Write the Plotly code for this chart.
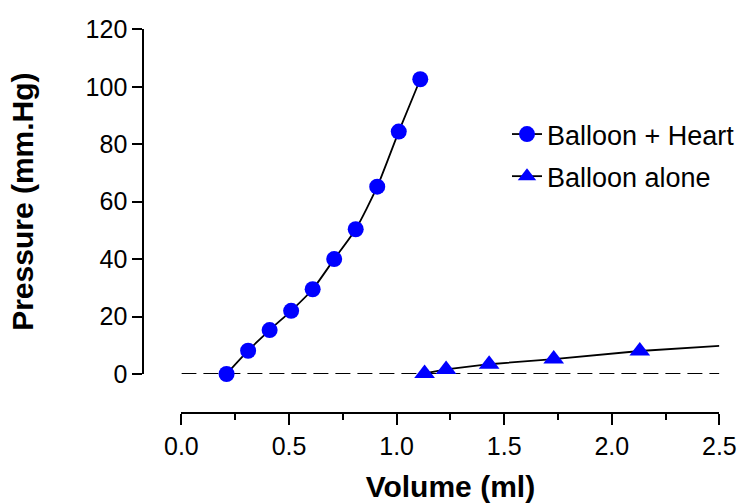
import plotly.graph_objects as go

# ---- data ----
heart_volume = [0.21, 0.31, 0.41, 0.51, 0.61, 0.71, 0.81, 0.91, 1.01, 1.11]
heart_pressure = [0.0, 8.1, 15.3, 22.0, 29.5, 40.0, 50.4, 65.2, 84.4, 102.6]

alone_volume = [1.13, 1.23, 1.43, 1.73, 2.13]
alone_pressure = [0.2, 1.6, 3.4, 5.2, 8.0]

# continuation of the "balloon alone" curve beyond the last point
alone_ext_volume = [2.13, 2.50]
alone_ext_pressure = [8.0, 9.8]

baseline_volume = [0.0, 2.5]
baseline_pressure = [0.0, 0.0]

x_ticks = [0.0, 0.5, 1.0, 1.5, 2.0, 2.5]
x_ticklabels = ["0.0", "0.5", "1.0", "1.5", "2.0", "2.5"]
y_ticks = [0, 20, 40, 60, 80, 100, 120]

FONT = "Arial, Liberation Sans, sans-serif"
W, H = 742, 503

fig = go.Figure()

fig.add_trace(go.Scatter(
    x=baseline_volume, y=baseline_pressure, mode="lines",
    line=dict(color="black", width=2, dash="15px,7px"),
    showlegend=False, hoverinfo="skip", cliponaxis=False))

fig.add_trace(go.Scatter(
    x=heart_volume, y=heart_pressure, mode="lines+markers",
    name="Balloon + Heart", legendgroup="a",
    line=dict(color="black", width=1.8, shape="spline", smoothing=0.6),
    marker=dict(symbol="circle", size=16, color="#0000ff"),
    cliponaxis=False))

fig.add_trace(go.Scatter(
    x=alone_ext_volume, y=alone_ext_pressure, mode="lines",
    line=dict(color="black", width=1.8),
    showlegend=False, legendgroup="b", cliponaxis=False))

fig.add_trace(go.Scatter(
    x=alone_volume, y=alone_pressure, mode="lines+markers",
    name="Balloon alone", legendgroup="b",
    line=dict(color="black", width=1.8),
    marker=dict(symbol="triangle-up", size=18, color="#0000ff"),
    cliponaxis=False))

fig.update_layout(
    width=W, height=H,
    margin=dict(l=0, r=0, t=0, b=0),
    paper_bgcolor="white", plot_bgcolor="white",
    font=dict(family=FONT, color="black"),
    xaxis=dict(
        domain=[181.4 / W, 719.4 / W],
        range=[0, 2.5], anchor="free", position=1 - 412.5 / H,
        showgrid=False, zeroline=False,
        showline=True, linecolor="black", linewidth=2,
        ticks="outside", ticklen=11, tickwidth=2, tickcolor="black",
        tickvals=x_ticks, ticktext=x_ticklabels,
        tickfont=dict(size=25, family=FONT, color="black"),
        minor=dict(dtick=0.25, ticks="outside", ticklen=6, tickwidth=2, tickcolor="black"),
        title=dict(text="<b>Volume (ml)</b>", font=dict(size=30, family=FONT, color="black"), standoff=16),
        automargin=False,
    ),
    yaxis=dict(
        domain=[1 - 374 / H, 1 - 29.3 / H],
        range=[0, 120], anchor="free", position=143.3 / W,
        showgrid=False, zeroline=False,
        showline=True, linecolor="black", linewidth=2,
        ticks="outside", ticklen=10, tickwidth=2, tickcolor="black",
        tickvals=y_ticks,
        tickfont=dict(size=25, family=FONT, color="black"),
        title=dict(text="<b>Pressure (mm.Hg)</b>", font=dict(size=30, family=FONT, color="black"), standoff=42),
        automargin=False,
    ),
    legend=dict(
        x=507 / W, y=1 - 110 / H, xanchor="left", yanchor="top",
        font=dict(size=27, family=FONT, color="black"),
        bgcolor="rgba(0,0,0,0)", tracegroupgap=4,
        itemwidth=30,
    ),
)

fig.write_html("out.html")
